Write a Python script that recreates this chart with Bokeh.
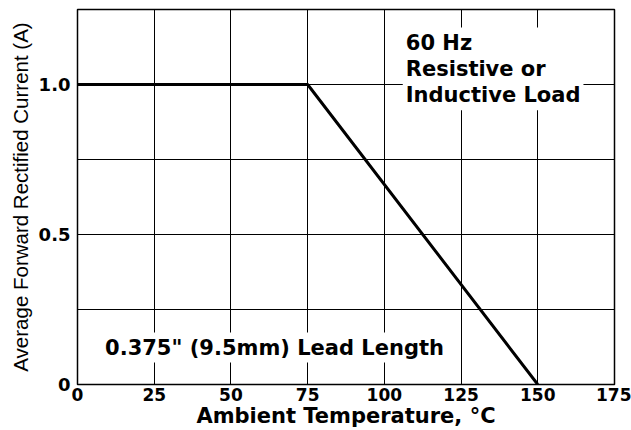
from bokeh.plotting import figure
from bokeh.models import Range1d, FixedTicker, Label
from bokeh.embed import file_html
from bokeh.resources import INLINE

# Data
temperature = [0, 75, 150]
current = [1.0, 1.0, 0.0]
x_ticks = [0, 25, 50, 75, 100, 125, 150, 175]
y_grid = [0, 0.25, 0.5, 0.75, 1.0, 1.25]
y_ticks = [0, 0.5, 1.0]
y_tick_labels = {0: "0", 0.5: "0.5", 1: "1.0"}

p = figure(width=631, height=430, output_backend="svg", toolbar_location=None,
           x_range=Range1d(0, 175), y_range=Range1d(0, 1.25),
           min_border_left=77, min_border_right=17, min_border_top=9, min_border_bottom=45)
p.background_fill_color = "white"
p.border_fill_color = "white"
p.outline_line_color = "black"
p.outline_line_width = 1.5

p.xgrid.ticker = FixedTicker(ticks=x_ticks)
p.ygrid.ticker = FixedTicker(ticks=y_grid)
for g in (p.xgrid, p.ygrid):
    g.grid_line_color = "black"
    g.grid_line_width = 1
    g.grid_line_alpha = 1

p.xaxis.ticker = FixedTicker(ticks=x_ticks)
p.yaxis.ticker = FixedTicker(ticks=y_ticks)
p.yaxis.major_label_overrides = y_tick_labels

for ax in (p.xaxis, p.yaxis):
    ax.axis_line_color = None
    ax.major_tick_line_color = None
    ax.minor_tick_line_color = None
    ax.major_tick_in = 0
    ax.major_tick_out = 0
    ax.major_label_text_font = "DejaVu Sans"
    ax.major_label_text_font_style = "bold"
    ax.major_label_text_color = "black"

p.xaxis.major_label_text_font_size = "17px"
p.yaxis.major_label_text_font_size = "18px"
p.xaxis.major_label_standoff = 3
p.yaxis.major_label_standoff = 7

p.xaxis.axis_label = "Ambient Temperature, °C"
p.xaxis.axis_label_text_font = "DejaVu Sans"
p.xaxis.axis_label_text_font_style = "bold"
p.xaxis.axis_label_text_font_size = "21px"
p.xaxis.axis_label_text_color = "black"
p.xaxis.axis_label_standoff = 0

p.yaxis.axis_label = "Average Forward Rectified Current (A)"
p.yaxis.axis_label_text_font = "Liberation Sans"
p.yaxis.axis_label_text_font_style = "normal"
p.yaxis.axis_label_text_font_size = "20.5px"
p.yaxis.axis_label_text_color = "black"
p.yaxis.axis_label_standoff = 4

p.line(temperature, current, line_color="black", line_width=3)

p.add_layout(Label(x=106, y=1.19, text="60 Hz\nResistive or\nInductive Load",
                   anchor="top_left", text_font="DejaVu Sans", text_font_style="bold",
                   text_font_size="21px", text_color="black", text_line_height=1.1,
                   background_fill_color="white", padding=3))
p.add_layout(Label(x=8.0, y=0.123, text='0.375" (9.5mm) Lead Length',
                   anchor="center_left", text_font="DejaVu Sans", text_font_style="bold",
                   text_font_size="21px", text_color="black",
                   background_fill_color="white", padding=3))

open("out.html", "w").write(file_html(p, INLINE))
